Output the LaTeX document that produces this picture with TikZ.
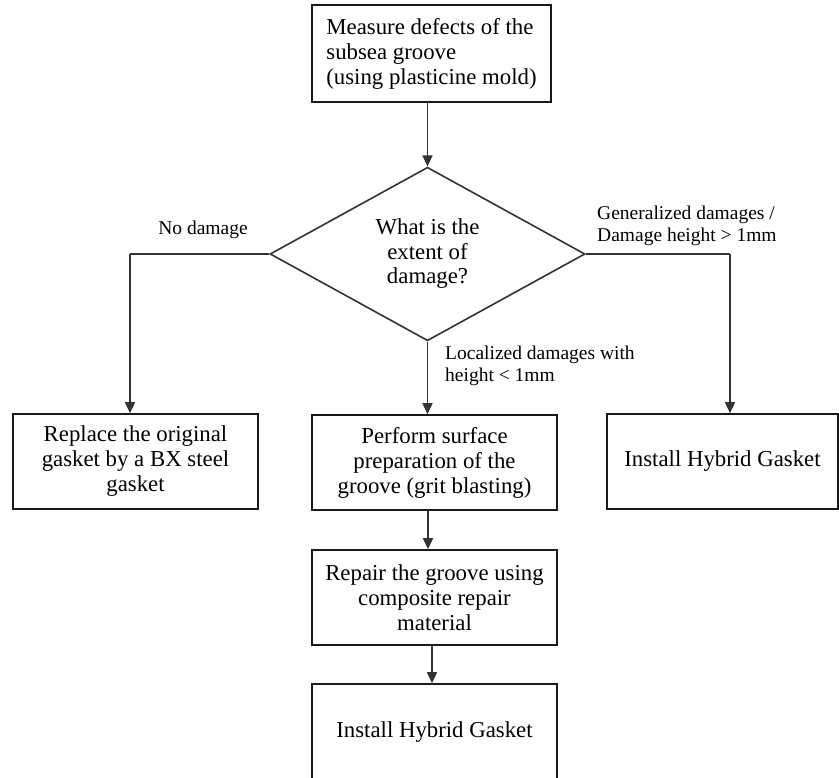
\documentclass[tikz,border=0pt]{standalone}
\usepackage{fontspec}
\setmainfont{Liberation Serif}
\usetikzlibrary{shapes.geometric,arrows.meta}
\tikzset{
  box/.style={draw=black!90, line width=1.6pt, rectangle, inner sep=0pt, align=center,
    font=\fontsize{22.8}{25}\selectfont},
  decision/.style={draw=black!80, line width=1.6pt, diamond, inner sep=0pt, align=center,
    minimum width=315pt, minimum height=162pt, font=\fontsize{22.8}{24.5}\selectfont},
  lbl/.style={inner sep=0pt, font=\fontsize{19.5}{22}\selectfont},
  conn/.style={draw=black!80, line width=1.6pt, -{Triangle[length=11pt,width=10pt]}},
  seg/.style={draw=black!80, line width=1.6pt}
}
\begin{document}
\begin{tikzpicture}[x=1pt,y=-1pt]
\useasboundingbox (0,0) rectangle (839,778);
\node[box, minimum width=239pt, minimum height=97pt, align=left] (top) at (431.5,53.5)
  {Measure defects of the\\subsea groove\\(using plasticine mold)};
\node[decision] (dia) at (427.5,254) {What is the\\extent of\\damage?};
\node[box, minimum width=245pt, minimum height=95pt] (left) at (135.5,461.5)
  {Replace the original\\gasket by a BX steel\\gasket};
\node[box, minimum width=245pt, minimum height=95pt] (mid) at (434.5,462.5)
  {Perform surface\\preparation of the\\groove (grit blasting)};
\node[box, minimum width=231pt, minimum height=95pt] (right) at (722.5,461.5)
  {Install Hybrid Gasket};
\node[box, minimum width=245pt, minimum height=95pt] (rep) at (434.5,597.5)
  {Repair the groove using\\composite repair\\material};
\node[box, minimum width=245pt, minimum height=97pt] (inst) at (434.5,732.5)
  {Install Hybrid Gasket};

\coordinate (lc) at (130,0);
\coordinate (rc) at (730,0);
\coordinate (mc) at (428,0);
\coordinate (bc) at (432,0);

\draw[conn] (dia.north |- top.south) -- (dia.north);
\draw[seg] (dia.west) -- (dia.west -| lc);
\draw[conn] (dia.west -| lc) -- (left.north -| lc);
\draw[seg] (dia.east) -- (dia.east -| rc);
\draw[conn] (dia.east -| rc) -- (right.north -| rc);
\draw[conn] (dia.south) -- (mid.north -| dia.south);
\draw[conn] (mid.south -| mc) -- (rep.north -| mc);
\draw[conn] (rep.south -| bc) -- (inst.north -| bc);

\node[lbl] (ln) at (203,230) {No damage};
\node[lbl, anchor=west, align=left] (lg) at (597,226) {Generalized damages /\\Damage height > 1mm};
\node[lbl, anchor=west, align=left] (ll) at (445,366) {Localized damages with\\height < 1mm};
\end{tikzpicture}
\end{document}
